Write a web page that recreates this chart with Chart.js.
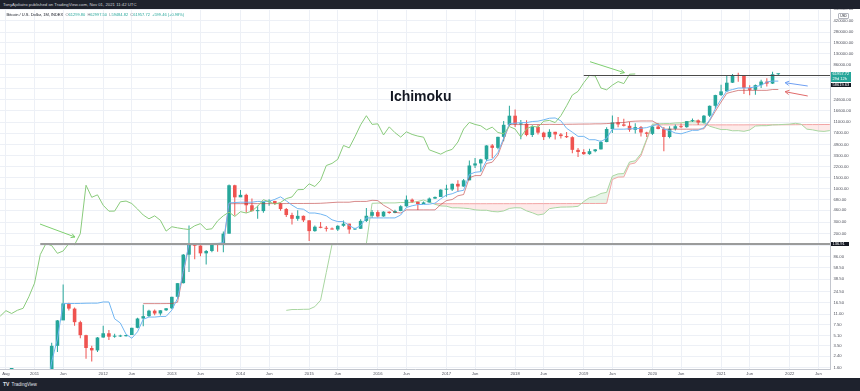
<!DOCTYPE html>
<html>
<head>
<meta charset="utf-8">
<script src="https://cdn.jsdelivr.net/npm/chart.js@4/dist/chart.umd.min.js"></script>
<style>
html,body{margin:0;padding:0;background:#1e222d;}
#wrap{position:relative;width:860px;height:391px;overflow:hidden;background:#1e222d;font-family:"Liberation Sans",Arial,sans-serif;}
#c{position:absolute;left:0;top:0;background:#ffffff;}
#hdr{position:absolute;left:0;top:0;width:860px;height:9px;background:#1e222d;color:#d1d4dc;font-size:4.3px;line-height:9px;padding-left:3px;box-sizing:border-box;white-space:nowrap;}
#legend{position:absolute;left:6.5px;top:12.3px;font-size:4px;line-height:5px;white-space:nowrap;color:#131722;}
#legend .k{color:#787b86;}
#legend .v{color:#26a69a;margin-right:2.2px;}
#title{position:absolute;left:390px;top:88px;font-size:14px;font-weight:bold;color:#131722;white-space:nowrap;line-height:16px;}
#usd{position:absolute;left:838px;top:12.5px;width:9px;height:4.2px;border:0.5px solid #b2b5be;border-radius:1px;font-size:3.2px;line-height:4.2px;text-align:center;color:#131722;background:#fff;}
.pl{position:absolute;left:830.5px;width:20.5px;color:#fff;font-size:4px;line-height:4.7px;padding-left:2px;box-sizing:border-box;white-space:nowrap;}
#lblClose{background:#26a69a;height:10px;padding-top:0.4px;}
#lblRay2{background:#131722;height:4.7px;}
#lblRay1{background:#131722;height:4.7px;width:18px;}
#ftr{position:absolute;left:0;top:378px;width:860px;height:13px;background:#1e222d;color:#e0e3eb;font-size:4.6px;line-height:13px;padding-left:3px;box-sizing:border-box;white-space:nowrap;}
#ftr b{font-size:5px;margin-right:1px;}
</style>
</head>
<body>
<div id="wrap">
  <canvas id="c" width="860" height="378"></canvas>
  <div id="hdr">TonyAjoliatro published on TradingView.com, Nov 01, 2021 11:42 UTC</div>
  <div id="legend"></div>
  <div id="title">Ichimoku</div>
  <div id="usd">USD</div>
  <div id="lblClose" class="pl"></div>
  <div id="lblRay2" class="pl"></div>
  <div id="lblRay1" class="pl"></div>
  <div id="ftr"><b>TV</b> TradingView</div>
</div>
<script>
// ---- Data: monthly BTC/USD candles, index 0 = Jul 2010 (month number -1, Aug 2010 = 0) ----
const FIRST_MONTH = -1;
const open = [0.05,0.07,0.06,0.06,0.19,0.28,0.30,0.52,0.86,0.78,3.50,8.74,16.10,13.35,8.20,5.14,3.24,2.97,4.72,5.50,4.86,4.90,4.95,5.17,6.69,9.35,10.17,12.40,11.20,12.57,13.51,20.41,33.38,93.03,139.23,128.80,97.51,106.21,138.78,133.00,198.00,1130,732,800,550,445,446,623,640,585,480,387,338,376,320,217,254,244,236,230,263,284,230,236,314,377,430,368,437,416,448,531,673,624,575,609,700,742,964,970,1190,1080,1350,2300,2480,2870,4730,4340,6450,9950,13800,10100,10300,6900,9240,7500,6390,7730,7030,6630,6370,4040,3740,3460,3850,4110,5350,8550,10850,10080,9600,8300,9150,7540,7190,9350,8540,6410,8630,9450,9140,11340,11650,10780,13800,19700,28990,33110,45240,58800,57750,37330,35040,41460,47100,43820,61299.80];
const high = [0.09,0.07,0.07,0.19,0.50,0.30,0.52,1.10,0.95,3.90,8.90,31.90,16.50,13.90,8.60,5.20,3.50,4.80,7.20,6.20,5.40,5.20,5.20,6.70,9.60,15.40,12.80,12.90,12.60,13.70,20.40,33.40,95,266,140,130,110,140,141,214,1163,1150,950,830,700,540,630,680,650,600,500,420,460,380,320,265,300,260,247,268,318,284,245,332,500,465,460,445,440,467,550,780,700,626,630,730,752,975,1150,1200,1350,1420,2760,3000,2920,4750,4980,6470,11400,19700,17200,11800,11700,9800,9990,7770,8500,7760,7410,7680,6600,4300,4120,4210,4150,5650,9090,13870,13200,12330,10960,10540,9510,7750,9570,10500,9190,9470,10070,10380,11450,12470,12080,14100,19900,29300,41950,58350,61790,64850,59600,41330,42400,50500,52920,67000,62997.50];
const low = [0.05,0.06,0.06,0.06,0.14,0.17,0.30,0.52,0.70,0.60,2.80,10.00,12.50,7.20,4.60,2.20,2.00,2.80,4.70,4.30,4.70,4.80,4.90,5.20,6.60,7.10,9.90,10.50,10.40,12.30,13.20,19.10,33.00,50.00,79.00,88.00,65.00,101,103,101,197,380,745,420,440,340,420,540,560,450,360,275,315,300,152,212,240,214,229,218,253,198,225,235,300,348,354,365,406,412,442,520,603,465,575,606,688,740,750,920,890,1070,1350,2100,1830,2700,2980,4120,5500,9600,9200,5900,6600,6430,7030,5750,6070,5880,6100,6200,3560,3130,3380,3380,3700,4100,5330,7440,9080,9330,7730,7300,6530,6430,6870,8470,3850,6150,8120,8860,8970,10990,9850,10380,13200,17600,28130,32300,44950,47000,30000,28800,29280,37330,39600,43280,59484.82];
const close = [0.07,0.06,0.06,0.19,0.28,0.30,0.52,0.86,0.78,3.50,8.74,16.10,13.35,8.20,5.14,3.24,2.97,4.72,5.50,4.86,4.90,4.95,5.17,6.69,9.35,10.17,12.40,11.20,12.57,13.51,20.41,33.38,93.03,139.23,128.80,97.51,106.21,138.78,133.00,198.00,1130,732,800,550,445,446,623,640,585,480,387,338,376,320,217,254,244,236,230,263,284,230,236,314,377,430,368,437,416,448,531,673,624,575,609,700,742,964,970,1190,1080,1350,2300,2480,2870,4730,4340,6450,9950,13800,10100,10300,6900,9240,7500,6390,7730,7030,6630,6370,4040,3740,3460,3850,4110,5350,8550,10850,10080,9600,8300,9150,7540,7190,9350,8540,6410,8630,9450,9140,11340,11650,10780,13800,19700,28990,33110,45240,58800,57750,37330,35040,41460,47100,43820,61358.26,61957.72];

// Ichimoku Conversion Line (9), index aligned with candles
const tenkan = [null,null,null,null,null,null,null,null,0.575,1.98,4.48,15.98,16.02,16.04,16.10,16.21,16.25,16.25,16.95,16.95,9.25,7.95,5.3,4.6,5.8,9.1,9.85,9.85,10.05,10.1,12.65,19.3,50.8,136.55,137.95,138.2,138.2,139.15,139.6,142.55,598,606.5,614,614,614,632,632,632,680,745,645,552.5,487.5,477.5,416,416,401,376,326,306,306,266,236,265,349,349,349,349,349,349,387.5,507.5,540,564,567,572.5,593,693.5,796,832.5,907.5,942.5,1667.5,1803,1844,2745,2865,3680,6145,10385,10525,10765,10765,11200,11340,11910,12600,12725,11475,8775,7630,6560,6560,5815,5815,5445,6110,8500,8500,8500,8625,8625,8785,8985,9600,10150,8525,8090,7405,7195,7650,8160,8160,8975,11875,17725,25035,33605,35380,37350,37350,37615,39025,41225,46490,47900,47900];
// Ichimoku Base Line (26), index aligned with candles
const kijun = [null,null,null,null,null,null,null,null,null,null,null,null,null,null,null,null,null,null,null,null,null,null,null,null,null,15.98,15.98,15.98,15.98,16.02,16.04,16.85,47.76,133.3,133.3,134,134,134,134,134,582.5,582.5,582.9,583.7,583.7,583.9,583.9,584.0,584.1,584.8,585.1,586.5,586.7,586.7,587.7,588.1,591.1,598,606.5,614,614,614,632,632,632,657.5,651,551,491,426,416,466,466,466,466,466,466,563.5,651,676,774,809,1479,1599,1599,2474,2589,3348,5818,10000,10024,10027,10033,10053,10056,10071,10110,10083,10083,10138,10153,10194,10220,10225,10295,10295,10385,10525,10765,10765,11200,11340,11415,11415,11415,10165,8500,8500,8500,8500,8500,8500,8500,8615,11515,16215,22540,30865,32585,34275,34350,34350,34350,34350,34350,35425,35425];
// Lagging Span, first value plotted at month -1
const chikou = [10.17,12.40,11.20,12.57,13.51,20.41,33.38,93.03,139.23,128.80,97.51,106.21,138.78,133.00,198.00,1130,732,800,550,445,446,623,640,585,480,387,338,376,320,217,254,244,236,230,263,284,230,236,314,377,430,368,437,416,448,531,673,624,575,609,700,742,964,970,1190,1080,1350,2300,2480,2870,4730,4340,6450,9950,13800,10100,10300,6900,9240,7500,6390,7730,7030,6630,6370,4040,3740,3460,3850,4110,5350,8550,10850,10080,9600,8300,9150,7540,7190,9350,8540,6410,8630,9450,9140,11340,11650,10780,13800,19700,28990,33110,45240,58800,57750,37330,35040,41460,47100,43820,61358.26,61957.72];
// Leading Span A, first value plotted at month 49
const SA_FIRST = 49;
const senkouA = [12.54,12.92,12.92,13.02,13.06,14.34,18.08,49.28,134.9,135.6,136.1,136.1,136.6,136.8,138.3,590.3,594.5,598.5,598.8,598.8,607.9,608.0,608.0,632.1,664.9,615.0,569.5,537.1,532.1,501.8,502.1,496.0,487.0,466.3,460.0,460.0,440.0,434.0,448.5,490.5,503.3,500.0,450.0,420.0,387.5,401.8,486.8,503.0,515.0,516.5,519.3,529.5,628.5,723.5,754.3,840.8,875.8,1573,1701,1722,2610,2727,3514,5981,10193,10275,10396,10399,10627,10698,10991,11355,11404,10779,9456,8892,8377,8390,8020,8055,7870,8248,9513,9633,9633,9913,9983,10100,10200,10508,10158,8513,8295,7953,7848,8075,8330];
// Leading Span B, first value plotted at month 75
const SB_FIRST = 75;
const senkouB = [581.5,581.5,581.5,581.5,581.6,581.6,581.7,581.8,581.8,581.8,582.5,582.5,582.5,582.5,582.5,582.5,582.5,582.9,583.7,583.7,583.9,583.9,584.0,584.1,584.8,585.1,586.5,586.7,586.7,587.7,588.1,1389.6,1516.5,1525,2407.5,2522.5,3267.5,5750.5,9900.5,9900.5,9926,9926,9926,9926,9926,9926,9926,9926,9926,9926,9926,9926,9926,9926,9926,9949,9949,9949,9949,9949,9949,9949,9962.5,9967.5,10000,10024,10027,10032.5,10053,10056,10071];

// Horizontal ray drawings: level and starting month
const rayLevels = [136.91, 58619.63];
const rayStarts = [6, 101];

// Axis ticks
const priceTicks = [1.6,2.4,3.5,5.1,7.5,11,16.5,24.5,38.5,58.5,86,130,200,300,460,680,1000,1500,2200,3300,4900,7400,11000,16600,24600,37000,55000,86000,130000,190000,280000,420000,640000];
const hiddenPriceTicks = [130,37000,55000];
const xTickMonths = [0,5,10,17,22,29,34,41,46,53,58,65,70,77,82,89,94,101,106,113,118,125,130,137,142];
const xTickLabels = ['Aug','2011','Jun','2012','Jun','2013','Jun','2014','Jun','2015','Jun','2016','Jun','2017','Jun','2018','Jun','2019','Jun','2020','Jun','2021','Jun','2022','Jun'];

// Hand-drawn arrows (month, price)
const arrows = [
  {from:[5.96,280], to:[12.07,175.6], color:'#7fcf70'},
  {from:[102.1,96300], to:[108.1,64800], color:'#7fcf70'},
  {from:[140.15,40180], to:[136.2,45240], color:'#6f9ff2'},
  {from:[140.15,28040], to:[136.2,32730], color:'#e06a6a'}
];

// ---- View range ----
const X_MIN = -1.037, X_MAX = 144.04;
const Y_MIN = 1.5205, Y_MAX = 886800;

const UP = '#26a69a', DOWN = '#ef5350';
const wickData = [], bodyData = [], candleColors = [];
for (let i = 0; i < open.length; i++) {
  const m = FIRST_MONTH + i;
  wickData.push({x: m, y: [low[i], high[i]]});
  bodyData.push({x: m, y: [open[i], close[i]]});
  candleColors.push(close[i] >= open[i] ? UP : DOWN);
}
function series(arr, first) {
  const out = [];
  arr.forEach((v, i) => { if (v !== null) out.push({x: first + i, y: v}); });
  return out;
}
const lineBase = {type: 'line', pointRadius: 0, borderWidth: 1, tension: 0, fill: false};

const datasets = [
  Object.assign({}, lineBase, {label: 'Leading Span B', data: series(senkouB, SB_FIRST), borderColor: '#f2a5a5',
    fill: {target: 1, above: 'rgba(244,67,54,0.11)', below: 'rgba(76,175,80,0.13)'}, order: 9}),
  Object.assign({}, lineBase, {label: 'Leading Span A', data: series(senkouA, SA_FIRST), borderColor: '#a9d6a1', order: 8}),
  {type: 'bar', label: 'Wicks', data: wickData, backgroundColor: candleColors, barThickness: 1, grouped: false,
    inflateAmount: 0, borderWidth: 0, minBarLength: 1, order: 7},
  {type: 'bar', label: 'Bodies', data: bodyData, backgroundColor: candleColors, barThickness: 3.6, grouped: false,
    inflateAmount: 0, borderWidth: 0, minBarLength: 1, order: 6},
  Object.assign({}, lineBase, {label: 'Base Line', data: series(kijun, FIRST_MONTH), borderColor: 'rgba(190,60,60,0.6)', order: 5}),
  Object.assign({}, lineBase, {label: 'Conversion Line', data: series(tenkan, FIRST_MONTH), borderColor: '#72b6f2', order: 4}),
  Object.assign({}, lineBase, {label: 'Lagging Span', data: series(chikou, FIRST_MONTH), borderColor: '#8acb7c', order: 3}),
  Object.assign({}, lineBase, {label: 'Level 1', data: [{x: rayStarts[0], y: rayLevels[0]}, {x: X_MAX, y: rayLevels[0]}], borderColor: '#9b9b9b', borderWidth: 2, order: 1}),
  Object.assign({}, lineBase, {label: 'Level 2', data: [{x: rayStarts[1], y: rayLevels[1]}, {x: X_MAX, y: rayLevels[1]}], borderColor: '#4a4a4a', borderWidth: 1.2, order: 1})
];

const arrowPlugin = {
  id: 'arrows',
  afterDatasetsDraw(chart) {
    const {ctx, scales: {x, y}} = chart;
    ctx.save();
    ctx.lineWidth = 1;
    arrows.forEach(a => {
      const x1 = x.getPixelForValue(a.from[0]), y1 = y.getPixelForValue(a.from[1]);
      const x2 = x.getPixelForValue(a.to[0]), y2 = y.getPixelForValue(a.to[1]);
      const ang = Math.atan2(y2 - y1, x2 - x1);
      const L = 4.5, spread = 0.5;
      ctx.strokeStyle = a.color;
      ctx.beginPath();
      ctx.moveTo(x1, y1); ctx.lineTo(x2, y2);
      ctx.moveTo(x2 - L * Math.cos(ang - spread), y2 - L * Math.sin(ang - spread));
      ctx.lineTo(x2, y2);
      ctx.lineTo(x2 - L * Math.cos(ang + spread), y2 - L * Math.sin(ang + spread));
      ctx.stroke();
    });
    ctx.restore();
  }
};

const FONT = '"Liberation Sans", Arial, sans-serif';
const chart = new Chart(document.getElementById('c'), {
  type: 'line',
  data: {datasets},
  options: {
    responsive: false,
    animation: false,
    events: [],
    layout: {padding: 0},
    plugins: {legend: {display: false}, tooltip: {enabled: false}, title: {display: false}},
    scales: {
      x: {
        type: 'linear', position: 'bottom', min: X_MIN, max: X_MAX, offset: false,
        afterBuildTicks(s) { s.ticks = xTickMonths.map(v => ({value: v})); s.min = X_MIN; s.max = X_MAX; },
        afterFit(s) { s.height = 9; s.paddingLeft = 0; s.paddingRight = 0; s.paddingTop = 0; s.paddingBottom = 0; },
        ticks: {autoSkip: false, maxRotation: 0, minRotation: 0, padding: 2.6, color: '#50535e',
          font: {size: 4.2, family: FONT},
          callback: (v) => { const k = xTickMonths.indexOf(v); return k >= 0 ? xTickLabels[k] : ''; }},
        grid: {color: '#edf0f6', drawTicks: false, offset: false, lineWidth: 1},
        border: {display: true, color: '#c3c6ce', width: 1}
      },
      y: {
        type: 'logarithmic', position: 'right', min: Y_MIN, max: Y_MAX,
        afterBuildTicks(s) { s.ticks = priceTicks.map(v => ({value: v})); s.min = Y_MIN; s.max = Y_MAX; },
        afterFit(s) { s.width = 30; s.paddingLeft = 0; s.paddingRight = 0; s.paddingTop = 0; s.paddingBottom = 0; },
        ticks: {autoSkip: false, padding: 3.5, color: '#50535e', font: {size: 4.2, family: FONT},
          callback: (v) => hiddenPriceTicks.includes(v) ? '' : Number(v).toFixed(2)},
        grid: {color: '#edf0f6', drawTicks: false, lineWidth: 1},
        border: {display: true, color: '#c3c6ce', width: 1}
      }
    }
  },
  plugins: [arrowPlugin]
});

// ---- DOM overlays (legend and axis price labels) ----
const last = close.length - 1;
const prevClose = close[last - 1];
const chg = close[last] - prevClose;
document.getElementById('legend').innerHTML =
  '<span class="t">Bitcoin / U.S. Dollar, 1M, INDEX</span>&nbsp;&nbsp;' +
  '<span class="k">O</span><span class="v">' + open[last].toFixed(2) + '</span>' +
  '<span class="k">H</span><span class="v">' + high[last].toFixed(2) + '</span>' +
  '<span class="k">L</span><span class="v">' + low[last].toFixed(2) + '</span>' +
  '<span class="k">C</span><span class="v">' + close[last].toFixed(2) + '</span>' +
  '<span class="v">+' + chg.toFixed(2) + ' (+' + (chg / prevClose * 100).toFixed(2) + '%)</span>';

const ys = chart.scales.y;
const yClose = ys.getPixelForValue(close[last]);
const lc = document.getElementById('lblClose');
lc.innerHTML = '<div>' + close[last].toFixed(2) + '</div><div>29d 12h</div>';
lc.style.top = (yClose - 2.3) + 'px';
const l2 = document.getElementById('lblRay2');
l2.textContent = rayLevels[1].toFixed(2);
l2.style.top = (yClose - 2.3 + 11) + 'px';
const l1 = document.getElementById('lblRay1');
l1.textContent = rayLevels[0].toFixed(2);
l1.style.top = (ys.getPixelForValue(rayLevels[0]) - 2.35) + 'px';
</script>
</body>
</html>
